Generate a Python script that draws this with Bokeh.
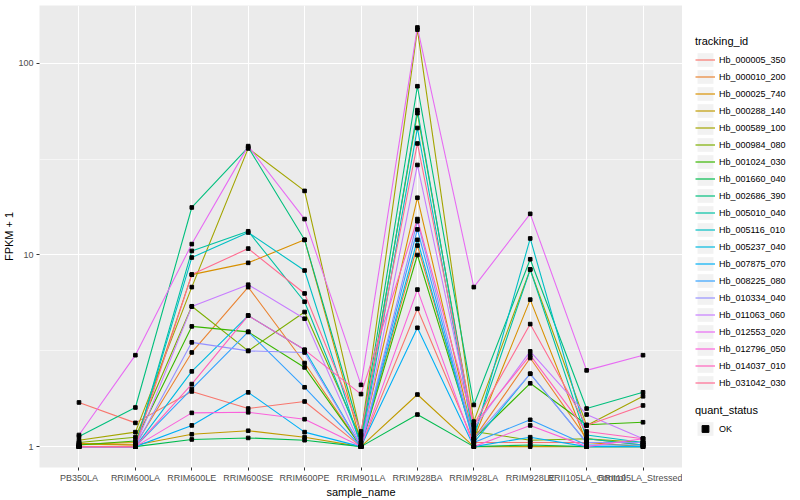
from bokeh.plotting import figure
from bokeh.layouts import row
from bokeh.models import (ColumnDataSource, FactorRange, Range1d, FixedTicker,
                          Legend, LegendItem, NumeralTickFormatter)
from bokeh.embed import file_html
from bokeh.resources import INLINE

samples = ["PB350LA", "RRIM600LA", "RRIM600LE", "RRIM600SE", "RRIM600PE",
           "RRIM901LA", "RRIM928BA", "RRIM928LA", "RRIM928LE",
           "RRII105LA_Control", "RRII105LA_Stressed"]

tracking_ids = ["Hb_000005_350", "Hb_000010_200", "Hb_000025_740", "Hb_000288_140",
                "Hb_000589_100", "Hb_000984_080", "Hb_001024_030", "Hb_001660_040",
                "Hb_002686_390", "Hb_005010_040", "Hb_005116_010", "Hb_005237_040",
                "Hb_007875_070", "Hb_008225_080", "Hb_010334_040", "Hb_011063_060",
                "Hb_012553_020", "Hb_012796_050", "Hb_014037_010", "Hb_031042_030"]

colors = ["#F8766D", "#EA8331", "#D89000", "#C09B00", "#A3A500", "#7CAE00",
          "#39B600", "#00BB4E", "#00BF7D", "#00C1A3", "#00BFC4", "#00BAE0",
          "#00B0F6", "#35A2FF", "#9590FF", "#C77CFF", "#E76BF3", "#FA62DB",
          "#FF62BC", "#FF6C91"]

# FPKM + 1 per sample (order of `samples`)
hb_000005_350 = [1.70, 1.33, 1.94, 1.58, 1.72, 1.00, 5.24, 1.05, 1.05, 1.05, 1.05]
hb_000010_200 = [1.04, 1.02, 3.10, 6.80, 2.73, 1.00, 11.2, 1.10, 2.90, 1.10, 1.02]
hb_000025_740 = [1.03, 1.05, 7.90, 9.10, 12.0, 1.05, 19.9, 1.10, 5.85, 1.05, 1.00]
hb_000288_140 = [1.03, 1.02, 1.16, 1.21, 1.12, 1.00, 1.87, 1.00, 1.00, 1.00, 1.00]
hb_000589_100 = [1.08, 1.19, 6.80, 36.0, 21.6, 1.15, 150., 1.35, 8.40, 1.29, 1.83]
hb_000984_080 = [1.05, 1.12, 5.40, 3.16, 5.04, 1.10, 55.0, 1.20, 1.08, 1.10, 1.05]
hb_001024_030 = [1.02, 1.07, 4.24, 3.97, 2.59, 1.00, 10.0, 1.10, 2.14, 1.30, 1.34]
hb_001660_040 = [1.00, 1.00, 1.09, 1.11, 1.08, 1.00, 1.47, 1.00, 1.02, 1.00, 1.00]
hb_002686_390 = [1.13, 1.60, 17.7, 36.5, 12.0, 1.15, 76.0, 1.65, 9.50, 1.58, 1.92]
hb_005010_040 = [1.00, 1.00, 10.5, 13.3, 5.70, 1.05, 57.0, 1.15, 8.40, 1.10, 1.02]
hb_005116_010 = [1.00, 1.00, 9.70, 13.1, 8.30, 1.00, 46.0, 1.10, 12.2, 1.15, 1.05]
hb_005237_040 = [1.00, 1.00, 2.47, 4.83, 3.20, 1.00, 12.0, 1.05, 2.40, 1.05, 1.05]
hb_007875_070 = [1.00, 1.00, 1.29, 1.92, 1.19, 1.00, 4.17, 1.00, 1.12, 1.00, 1.00]
hb_008225_080 = [1.00, 1.00, 2.00, 3.97, 2.04, 1.00, 13.6, 1.05, 1.38, 1.02, 1.02]
hb_010334_040 = [1.00, 1.00, 3.50, 3.16, 3.10, 1.00, 15.0, 1.10, 2.40, 1.05, 1.05]
hb_011063_060 = [1.00, 1.00, 5.38, 7.00, 4.65, 1.00, 29.5, 1.25, 3.14, 1.47, 1.10]
hb_012553_020 = [1.15, 3.00, 11.4, 37.0, 15.4, 2.10, 154., 6.80, 16.4, 2.50, 3.00]
hb_012796_050 = [1.00, 1.00, 1.50, 1.51, 1.39, 1.00, 6.60, 1.00, 1.29, 1.00, 1.10]
hb_014037_010 = [1.00, 1.00, 2.12, 4.83, 3.20, 1.88, 15.4, 1.30, 3.00, 1.20, 1.10]
hb_031042_030 = [1.00, 1.00, 7.90, 10.8, 6.30, 1.20, 38.2, 1.30, 4.36, 1.29, 1.64]

series = [hb_000005_350, hb_000010_200, hb_000025_740, hb_000288_140, hb_000589_100,
          hb_000984_080, hb_001024_030, hb_001660_040, hb_002686_390, hb_005010_040,
          hb_005116_010, hb_005237_040, hb_007875_070, hb_008225_080, hb_010334_040,
          hb_011063_060, hb_012553_020, hb_012796_050, hb_014037_010, hb_031042_030]

quant_status = ["OK"]
y_ticks = [1, 10, 100]
y_minor = [3.1623, 31.623]

FONT = "Liberation Sans"
FRAME_W = 643
FRAME_H = 462
TOTAL_H = 496
LEG_W = 108

p = figure(x_range=FactorRange(factors=samples, range_padding=0.2,
                               range_padding_units="absolute"),
           y_range=Range1d(0.778, 200.5), y_axis_type="log",
           frame_width=FRAME_W, frame_height=FRAME_H,
           min_border_left=0, min_border_right=0, min_border_top=5,
           min_border_bottom=0,
           output_backend="svg", toolbar_location=None,
           background_fill_color="#EBEBEB", border_fill_color="white",
           outline_line_color=None)

ticker = FixedTicker(ticks=y_ticks, minor_ticks=y_minor)
p.yaxis.ticker = ticker
p.ygrid.ticker = ticker
p.yaxis.formatter = NumeralTickFormatter(format="0")
p.ygrid.grid_line_color = "white"
p.ygrid.grid_line_width = 1.1
p.ygrid.minor_grid_line_color = "white"
p.ygrid.minor_grid_line_width = 0.55
p.xgrid.grid_line_color = "white"
p.xgrid.grid_line_width = 1.1

for ax in (p.xaxis, p.yaxis):
    ax.axis_line_color = None
    ax.major_tick_line_color = "#333333"
    ax.major_tick_line_width = 1
    ax.major_tick_out = 3
    ax.major_tick_in = 0
    ax.minor_tick_line_color = None
    ax.major_label_text_color = "#4D4D4D"
    ax.major_label_text_font = FONT
    ax.major_label_text_font_size = "9px"
    ax.major_label_standoff = 2
    ax.axis_label_text_font = FONT
    ax.axis_label_text_font_size = "11px"
    ax.axis_label_text_font_style = "normal"
    ax.axis_label_text_color = "black"
    ax.axis_label_standoff = 0
p.xaxis.axis_label = "sample_name"
p.yaxis.axis_label = "FPKM + 1"

for col, vals in zip(colors, series):
    p.line(x=samples, y=vals, line_color=col, line_width=1.1)

px, py, ps = [], [], []
for vals in series:
    for s, v in zip(samples, vals):
        px.append(s)
        py.append(v)
        ps.append(quant_status[0])
src = ColumnDataSource(dict(x=px, y=py, q=ps))
p.scatter(x="x", y="y", source=src, marker="square", size=3.6,
          fill_color="black", line_color="black")

# ---- legend panel (separate figure; its glyphs fall outside its own range) ----
lf = figure(width=LEG_W, height=TOTAL_H, x_range=FactorRange(factors=samples),
            y_range=Range1d(-2, -1), x_axis_location=None, y_axis_location=None,
            toolbar_location=None, output_backend="svg", min_border=0,
            outline_line_color=None, background_fill_color="white",
            border_fill_color="white")
lf.grid.visible = False

key_bg = lf.quad(left=samples[:1], right=samples[:1], top=hb_000005_350[:1],
                 bottom=hb_000005_350[:1], fill_color="#F2F2F2", line_color=None)

items = []
for tid, col, vals in zip(tracking_ids, colors, series):
    r = lf.line(x=samples, y=vals, line_color=col, line_width=1.2)
    items.append(LegendItem(label=tid, renderers=[key_bg, r]))

lpts = lf.scatter(x="x", y="y", source=src, marker="square", size=3.6,
                  fill_color="black", line_color="black")


def style_legend(lg):
    lg.border_line_color = None
    lg.background_fill_alpha = 0
    lg.padding = 5
    lg.margin = 0
    lg.spacing = 0
    lg.glyph_width = 20
    lg.glyph_height = 17
    lg.label_height = 17
    lg.label_standoff = 4
    lg.label_text_font = FONT
    lg.label_text_font_size = "9px"
    lg.label_text_color = "black"
    lg.title_text_font = FONT
    lg.title_text_font_size = "11px"
    lg.title_text_font_style = "normal"
    lg.title_text_color = "black"
    lg.title_standoff = 4


legend1 = Legend(items=items, title="tracking_id", location=(13, 72))
style_legend(legend1)
lf.add_layout(legend1, "center")

legend2 = Legend(items=[LegendItem(label=quant_status[0], renderers=[key_bg, lpts])],
                 title="quant_status", location=(13, 26))
style_legend(legend2)
lf.add_layout(legend2, "center")

layout = row(p, lf)
open("out.html", "w").write(file_html(layout, INLINE))
